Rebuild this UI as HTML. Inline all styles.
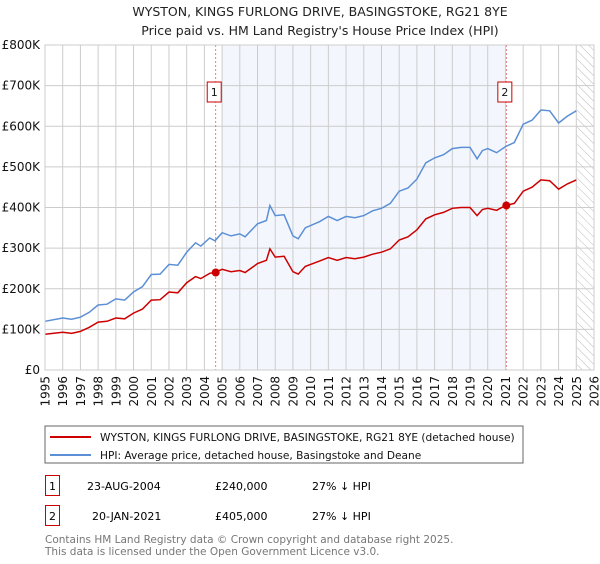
<!DOCTYPE html>
<html><head><meta charset="utf-8"><style>
body{margin:0;background:#fff;width:600px;height:560px;overflow:hidden;font-family:"DejaVu Sans","Liberation Sans",sans-serif;}
svg text{font-family:"DejaVu Sans","Liberation Sans",sans-serif;}
</style></head><body>
<svg id="c" width="600" height="560" xmlns="http://www.w3.org/2000/svg">
<text x="320" y="16" text-anchor="middle" font-size="12.5" fill="#222">WYSTON, KINGS FURLONG DRIVE, BASINGSTOKE, RG21 8YE</text>
<text x="320" y="35" text-anchor="middle" font-size="12.5" fill="#222">Price paid vs. HM Land Registry's House Price Index (HPI)</text>
<defs><pattern id="hatch" width="6" height="6" patternUnits="userSpaceOnUse" patternTransform="rotate(-45)"><line x1="0" y1="0" x2="0" y2="6" stroke="#bbb" stroke-width="1"/></pattern></defs>
<g id="plot"></g>
<rect x="45" y="426" width="478" height="37" fill="none" stroke="#666"/>
<line x1="50" y1="437" x2="91" y2="437" stroke="#cc0000" stroke-width="2"/>
<text x="100" y="441" font-size="10.6" fill="#111">WYSTON, KINGS FURLONG DRIVE, BASINGSTOKE, RG21 8YE (detached house)</text>
<line x1="50" y1="455" x2="91" y2="455" stroke="#5b8fd6" stroke-width="2"/>
<text x="100" y="459" font-size="10.6" fill="#111">HPI: Average price, detached house, Basingstoke and Deane</text>
<rect x="45.5" y="475.5" width="14" height="20" fill="none" stroke="#cc0000"/>
<text x="52.5" y="490" text-anchor="middle" font-size="11">1</text>
<text x="87" y="490" font-size="11">23-AUG-2004</text>
<text x="215" y="490" font-size="11">£240,000</text>
<text x="312" y="490" font-size="11">27% ↓ HPI</text>
<rect x="45.5" y="505.5" width="14" height="20" fill="none" stroke="#cc0000"/>
<text x="52.5" y="520" text-anchor="middle" font-size="11">2</text>
<text x="92" y="520" font-size="11">20-JAN-2021</text>
<text x="215" y="520" font-size="11">£405,000</text>
<text x="312" y="520" font-size="11">27% ↓ HPI</text>
<text x="45" y="543" font-size="10.5" fill="#777">Contains HM Land Registry data © Crown copyright and database right 2025.</text>
<text x="45" y="555" font-size="10.5" fill="#777">This data is licensed under the Open Government Licence v3.0.</text>
</svg>
<script>
const hpiYears=[1995,1996,1996.5,1997,1997.5,1998,1998.5,1999,1999.5,2000,2000.5,2001,2001.5,2002,2002.5,2003,2003.5,2003.8,2004.3,2004.6,2005,2005.5,2006,2006.3,2007,2007.5,2007.7,2008,2008.5,2009,2009.3,2009.7,2010.5,2011,2011.5,2012,2012.5,2013,2013.5,2014,2014.5,2015,2015.5,2016,2016.5,2017,2017.5,2018,2018.5,2019,2019.4,2019.7,2020,2020.5,2021,2021.5,2022,2022.5,2023,2023.5,2024,2024.5,2025];
const hpiValues=[120,128,125,130,142,160,162,175,172,192,205,235,236,260,258,290,313,305,325,318,338,330,335,328,360,368,405,380,382,330,323,350,365,378,368,378,375,380,392,398,410,440,448,470,510,522,530,545,548,548,520,540,545,535,550,560,605,615,640,638,608,625,638];
const propValues=[88,93,90,95,105,118,120,128,126,140,150,172,173,192,190,215,230,225,238,240,248,242,245,240,262,270,298,278,280,242,236,255,268,277,270,277,274,278,285,290,298,320,328,345,372,382,388,398,400,400,380,395,398,393,405,410,440,450,468,466,445,458,468];
const saleYears=[2004.64,2021.05];
const salePrices=[240,405];
const saleLabels=["1","2"];
const yTicks=[0,100,200,300,400,500,600,700,800];
const yTickLabels=["£0","£100K","£200K","£300K","£400K","£500K","£600K","£700K","£800K"];
const xTicks=[1995,1996,1997,1998,1999,2000,2001,2002,2003,2004,2005,2006,2007,2008,2009,2010,2011,2012,2013,2014,2015,2016,2017,2018,2019,2020,2021,2022,2023,2024,2025,2026];
const X0=45,X1=594,Y0=370,Y1=45;
const xs=y=>X0+(y-1995)/(2026-1995)*(X1-X0);
const ys=v=>Y0-v/800*(Y0-Y1);
const NS="http://www.w3.org/2000/svg";
const g=document.getElementById('plot');
function mk(t,a){const e=document.createElementNS(NS,t);for(const k in a)e.setAttribute(k,a[k]);g.appendChild(e);return e;}
let e;
e=mk('rect',{x:xs(2005),y:Y1,width:xs(2021)-xs(2005),height:Y0-Y1,fill:'#eef3fc',opacity:0.7});


e=mk('rect',{x:xs(2025.05),y:Y1,width:X1-xs(2025.05),height:Y0-Y1,fill:'url(#hatch)'});


xTicks.forEach(t=>{
 e=mk('line',{x1:xs(t),x2:xs(t),y1:Y1,y2:Y0,stroke:'#ccc','stroke-width':1});
 
 
 e=mk('text',{x:0,y:0,'font-size':12,fill:'#111','text-anchor':'end',transform:`translate(${xs(t)+4.5},${Y0+6}) rotate(-90)`});
 e.textContent=t;
 
 
});
yTicks.forEach((t,i)=>{
 e=mk('line',{x1:X0,x2:X1,y1:ys(t),y2:ys(t),stroke:'#ccc','stroke-width':1});
 
 
 e=mk('text',{x:X0-5,y:ys(t)+4,'font-size':12,fill:'#111','text-anchor':'end'});
 e.textContent=yTickLabels[i];
 
 
});
saleYears.forEach((y,i)=>{
 e=mk('line',{x1:xs(y),x2:xs(y),y1:Y1,y2:Y0,stroke:'#e06060','stroke-width':0.8,'stroke-dasharray':'2,2'});
 
 
 e=mk('rect',{x:xs(y)-8.5,y:82,width:14,height:20,fill:'#fff',stroke:'#cc0000'});
 
 
 e=mk('text',{x:xs(y)-1.5,y:96,'font-size':11,'text-anchor':'middle',fill:'#111'});
 e.textContent=saleLabels[i];
 
 
});
function pts(vals){return hpiYears.map((y,i)=>xs(y).toFixed(1)+','+ys(vals[i]).toFixed(1)).join(' ');}
e=mk('polyline',{points:pts(hpiValues),fill:'none',stroke:'#5b8fd6','stroke-width':1.5});


e=mk('polyline',{points:pts(propValues),fill:'none',stroke:'#cc0000','stroke-width':1.5});


saleYears.forEach((y,i)=>{
 e=mk('circle',{cx:xs(y),cy:ys(salePrices[i]),r:4,fill:'#cc0000'});
 
 
});
e=mk('rect',{x:X0,y:Y1,width:X1-X0,height:Y0-Y1,fill:'none',stroke:'#ccc'});


</script>
</body></html>
